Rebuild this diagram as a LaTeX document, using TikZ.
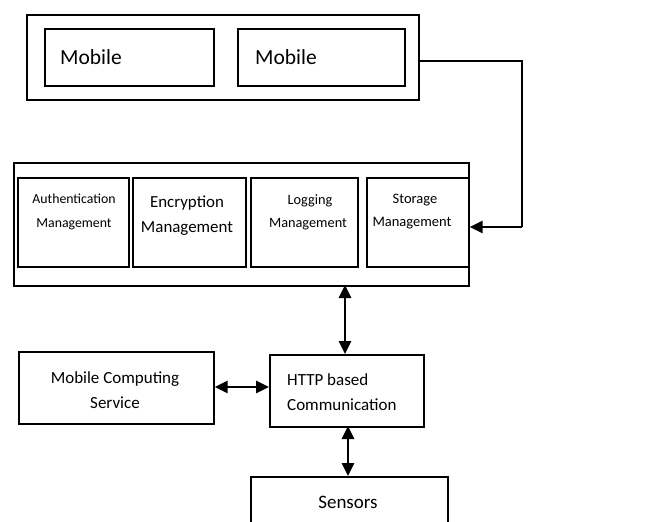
\documentclass[tikz,border=0pt]{standalone}
\usepackage{fontspec}
\setmainfont{Carlito}
\usetikzlibrary{arrows.meta}
\begin{document}
\begin{tikzpicture}[x=1pt,y=-1pt,
  box/.style={draw=black,line width=1.7pt,inner sep=0pt,anchor=north west},
  txt/.style={inner sep=0pt,align=center},
  conn/.style={line width=2.6pt,{Triangle[length=13pt,width=12pt]}-{Triangle[length=13pt,width=12pt]}},
  oneway/.style={line width=2.6pt,-{Triangle[length=13pt,width=12pt]}},
  thin/.style={line width=1.5pt}]
\useasboundingbox (0,0) rectangle (646,522);
% top group
\node[box,minimum width=392pt,minimum height=85pt] (top) at (26,14) {};
\node[box,minimum width=169pt,minimum height=57pt] (m1) at (44,28) {};
\node[box,minimum width=167pt,minimum height=57pt] (m2) at (237,28) {};
\node[txt,anchor=west,font=\fontsize{21.5}{24}\selectfont] (m1t) at (60,57) {Mobile};
\node[txt,anchor=west,font=\fontsize{21.5}{24}\selectfont] (m2t) at (255,57) {Mobile};
% middle group
\node[box,minimum width=455pt,minimum height=123pt] (mid) at (13,162) {};
\node[box,minimum width=111pt,minimum height=89pt] (auth) at (17,177) {};
\node[box,minimum width=113pt,minimum height=89pt] (enc) at (132,177) {};
\node[box,minimum width=107pt,minimum height=89pt] (log) at (250,177) {};
\node[box,minimum width=102pt,minimum height=89pt] (stor) at (366,177) {};
\node[txt,font=\fontsize{13.8}{24}\selectfont] (autht) at (74,212) {Authentication\\Management};
\node[txt,font=\fontsize{16.9}{25}\selectfont] (enct) at (187,216) {Encryption\\Management};
\node[txt,font=\fontsize{14.3}{23}\selectfont] (logt) at (308,212) {\hspace*{4pt}Logging\\Management};
\node[txt,font=\fontsize{14.5}{23}\selectfont] (stort) at (412,212) {\hspace*{6pt}Storage\\Management};
% lower nodes
\node[box,minimum width=195pt,minimum height=72pt] (mcs) at (18,351) {};
\node[txt,font=\fontsize{17}{25}\selectfont] (mcst) at (115,390) {Mobile Computing\\Service};
\node[box,minimum width=154pt,minimum height=72pt] (http) at (269,354) {};
\node[txt,anchor=west,align=left,font=\fontsize{17}{25}\selectfont] (httpt) at (287,392) {HTTP based\\Communication};
\node[box,minimum width=197pt,minimum height=70pt] (sens) at (250,476) {};
\node[txt,font=\fontsize{19}{24}\selectfont] (senst) at (348,502) {Sensors};
% connectors
\coordinate (c1) at (522,61);
\coordinate (c2) at (522,227);
\draw[thin] (top.east |- c1) -- (c1) -- (c2);
\draw[oneway] (c2) -- (stor.east |- c2);
\draw[conn] (345,285) coordinate (a1) -- (a1 |- http.north);
\draw[conn] (mcs.east |- 0,387) -- (http.west |- 0,387);
\draw[conn] (348,426) coordinate (a2) -- (a2 |- sens.north);
\end{tikzpicture}
\end{document}
